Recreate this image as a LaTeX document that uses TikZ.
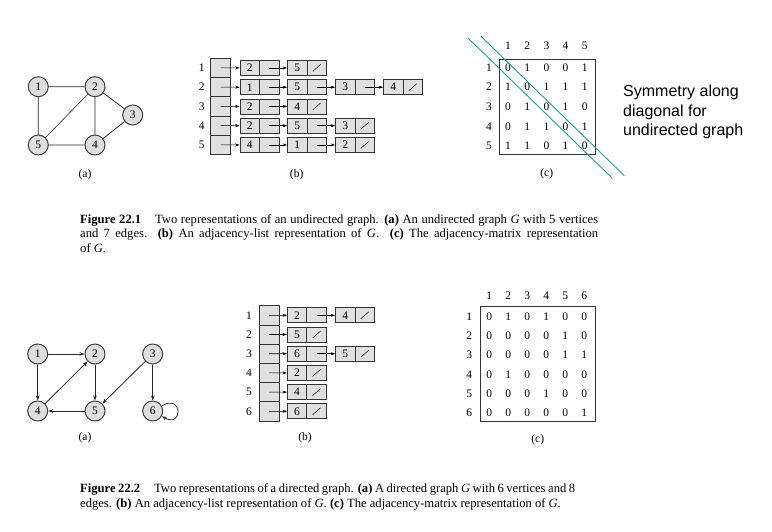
\documentclass[tikz,border=0pt]{standalone}
\usepackage{fontspec}
\setmainfont{Liberation Serif}
\newfontfamily\annfont{Liberation Sans}
\usetikzlibrary{arrows.meta}
\definecolor{nodegray}{RGB}{222,222,222}
\definecolor{cellgray}{RGB}{224,224,224}
\definecolor{diagteal}{RGB}{30,160,140}
\newcommand\lcell[4]{%
  \node[valcell] (#1v) at ({#2+9.75},#3) {#4};
  \node[ptrcell] (#1p) at ({#2+29.25},#3) {};}
\newcommand\lnull[1]{\draw[nullline] ([shift={(-4,3.5)}]#1p.center) -- ([shift={(4,-3.5)}]#1p.center);}
\begin{document}
\begin{tikzpicture}[x=1pt,y=-1pt,font=\fontsize{11.5}{13}\selectfont,
  vert/.style={circle,draw=black!75,line width=1pt,fill=nodegray,minimum size=20pt,inner sep=0pt},
  gedge/.style={line width=0.8pt,black!85},
  darr/.style={gedge,-{Stealth[length=5pt,width=3.6pt]}},
  idxcell/.style={rectangle,draw=black!80,fill=cellgray,line width=0.7pt,minimum width=20pt,minimum height=19.25pt,inner sep=0pt},
  valcell/.style={rectangle,draw=black!80,fill=cellgray,line width=0.7pt,minimum width=19.5pt,minimum height=15pt,inner sep=0pt},
  ptrcell/.style={valcell},
  link/.style={line width=0.6pt,-{Stealth[length=4.5pt,width=3pt]}},
  nullline/.style={line width=0.5pt},
  lbl/.style={inner sep=0pt},
  mnum/.style={inner sep=0pt},
  mbox/.style={draw=black!80,line width=0.9pt},
  diagline/.style={diagteal,line width=0.9pt},
  capt/.style={anchor=base west,inner sep=0pt,align=justify,font=\fontsize{12.6}{14.5}\selectfont}
]
\useasboundingbox (0,0) rectangle (772,531);

% ---------- Figure 22.1 (a)
\node[vert] (u1) at (38.3,86.7) {1};
\node[vert] (u2) at (95,86.7) {2};
\node[vert] (u3) at (132.7,115) {3};
\node[vert] (u4) at (95,145) {4};
\node[vert] (u5) at (38.3,145) {5};
\draw[gedge] (u1)--(u2) (u1)--(u5) (u2)--(u4) (u2)--(u3) (u3)--(u4) (u5)--(u4);
\draw[gedge,line width=0.6pt] (u2)--(u5);
\node[lbl] (la1) at (85,175) {(a)};

% ---------- Figure 22.1 (b)
\foreach \i in {1,...,5} {
  \node[idxcell] (ti\i) at (220.7,{58.3+19.25*(\i-0.5)}) {};
  \node[lbl] (tl\i) at (201.7,{58.3+19.25*(\i-0.5)}) {\i};
}
% row 1
\lcell{ta1}{240}{67.9}{2}\lcell{ta2}{287.5}{67.9}{5}\lnull{ta2}
\draw[link] (ti1.center) -- (ta1v.west);
\draw[link] (ta1p.center) -- (ta2v.west);
% row 2
\lcell{tb1}{240}{87.2}{1}\lcell{tb2}{287.5}{87.2}{5}\lcell{tb3}{335.5}{87.2}{3}\lcell{tb4}{383.5}{87.2}{4}\lnull{tb4}
\draw[link] (ti2.center) -- (tb1v.west);
\draw[link] (tb1p.center) -- (tb2v.west);
\draw[link] (tb2p.center) -- (tb3v.west);
\draw[link] (tb3p.center) -- (tb4v.west);
% row 3
\lcell{tc1}{240}{106.4}{2}\lcell{tc2}{287.5}{106.4}{4}\lnull{tc2}
\draw[link] (ti3.center) -- (tc1v.west);
\draw[link] (tc1p.center) -- (tc2v.west);
% row 4
\lcell{td1}{240}{125.7}{2}\lcell{td2}{287.5}{125.7}{5}\lcell{td3}{335.5}{125.7}{3}\lnull{td3}
\draw[link] (ti4.center) -- (td1v.west);
\draw[link] (td1p.center) -- (td2v.west);
\draw[link] (td2p.center) -- (td3v.west);
% row 5
\lcell{te1}{240}{144.9}{4}\lcell{te2}{287.5}{144.9}{1}\lcell{te3}{335.5}{144.9}{2}\lnull{te3}
\draw[link] (ti5.center) -- (te1v.west);
\draw[link] (te1p.center) -- (te2v.west);
\draw[link] (te2p.center) -- (te3v.west);
\node[lbl] (lb1) at (296.7,175) {(b)};

% ---------- Figure 22.1 (c)
\draw[mbox] (499.3,59) rectangle (595,154);
\foreach \j in {1,...,5} {
  \node[mnum] (th\j) at ({508+19.2*(\j-1)},46) {\j};
  \node[mnum] (tr\j) at (489,{67.3+19.7*(\j-1)}) {\j};
}
\foreach \row [count=\i] in {{0,1,0,0,1},{1,0,1,1,1},{0,1,0,1,0},{0,1,1,0,1},{1,1,0,1,0}} {
  \foreach \v [count=\j] in \row {
    \node[mnum] (tm\i\j) at ({508+19.2*(\j-1)},{67.3+19.7*(\i-1)}) {\v};
  }
}
\node[lbl] (lc1) at (546.7,174) {(c)};
\coordinate (d1a) at (468.3,38.3);
\coordinate (d1b) at (612.3,178.3);
\coordinate (d2a) at (480.7,36);
\coordinate (d2b) at (624.3,175.7);
\draw[diagline] (d1a) -- (d1b);
\draw[diagline] (d2a) -- (d2b);
\node[anchor=north west,inner sep=0pt,align=left,font=\annfont\fontsize{16}{19.3}\selectfont] (sym) at (623,85)
  {Symmetry along\\diagonal for\\undirected graph};

% ---------- caption 22.1
\node[capt,text width=518pt] (cap1) at (80,223.3) {\textbf{Figure 22.1}\hspace{1.1em}Two representations of an undirected graph. \textbf{(a)} An undirected graph \textit{G} with 5 vertices\linebreak and 7 edges.\ \ \textbf{(b)} An adjacency-list representation of \textit{G}.\ \ \textbf{(c)} The adjacency-matrix representation\linebreak of \textit{G}.};

% ---------- Figure 22.2 (a)
\node[vert] (v1) at (37.7,354) {1};
\node[vert] (v2) at (95,354) {2};
\node[vert] (v3) at (152.7,354) {3};
\node[vert] (v4) at (37.7,411) {4};
\node[vert] (v5) at (95,411) {5};
\node[vert] (v6) at (152.7,411) {6};
\draw[darr] (v1) -- (v2);
\draw[darr] (v1) -- (v4);
\draw[darr] (v2) -- (v5);
\draw[darr] (v4) -- (v2);
\draw[darr] (v3) -- (v5);
\draw[darr] (v3) -- (v6);
\draw[darr] (v5) -- (v4);
\draw[darr] (v6) to[out=30,in=-30,looseness=6] (v6);
\node[lbl] (la2) at (85,438) {(a)};

% ---------- Figure 22.2 (b)
\foreach \i in {1,...,6} {
  \node[idxcell] (bi\i) at (269,{305.7+19.2*(\i-0.5)}) {};
  \node[lbl] (bl\i) at (249,{305.7+19.2*(\i-0.5)}) {\i};
}
\lcell{ba1}{287.3}{315.3}{2}\lcell{ba2}{335.5}{315.3}{4}\lnull{ba2}
\draw[link] (bi1.center) -- (ba1v.west);
\draw[link] (ba1p.center) -- (ba2v.west);
\lcell{bb1}{287.3}{334.5}{5}\lnull{bb1}
\draw[link] (bi2.center) -- (bb1v.west);
\lcell{bc1}{287.3}{353.7}{6}\lcell{bc2}{335.5}{353.7}{5}\lnull{bc2}
\draw[link] (bi3.center) -- (bc1v.west);
\draw[link] (bc1p.center) -- (bc2v.west);
\lcell{bd1}{287.3}{372.9}{2}\lnull{bd1}
\draw[link] (bi4.center) -- (bd1v.west);
\lcell{be1}{287.3}{392.1}{4}\lnull{be1}
\draw[link] (bi5.center) -- (be1v.west);
\lcell{bf1}{287.3}{411.3}{6}\lnull{bf1}
\draw[link] (bi6.center) -- (bf1v.west);
\node[lbl] (lb2) at (305,438) {(b)};

% ---------- Figure 22.2 (c)
\draw[mbox] (480,306) rectangle (595.3,421.7);
\foreach \j in {1,...,6} {
  \node[mnum] (bh\j) at ({489.3+19*(\j-1)},295.7) {\j};
  \node[mnum] (br\j) at (469.3,{316.7+19.2*(\j-1)}) {\j};
}
\foreach \row [count=\i] in {{0,1,0,1,0,0},{0,0,0,0,1,0},{0,0,0,0,1,1},{0,1,0,0,0,0},{0,0,0,1,0,0},{0,0,0,0,0,1}} {
  \foreach \v [count=\j] in \row {
    \node[mnum] (bm\i\j) at ({489.3+19*(\j-1)},{316.7+19.2*(\i-1)}) {\v};
  }
}
\node[lbl] (lc2) at (537.7,440) {(c)};

% ---------- caption 22.2
\node[capt,text width=495pt] (cap2) at (80,492.7) {\textbf{Figure 22.2}\hspace{1.1em}Two representations of a directed graph. \textbf{(a)} A directed graph \textit{G} with 6 vertices and 8\linebreak edges. \textbf{(b)} An adjacency-list representation of \textit{G}. \textbf{(c)} The adjacency-matrix representation of \textit{G}.};
\end{tikzpicture}
\end{document}
